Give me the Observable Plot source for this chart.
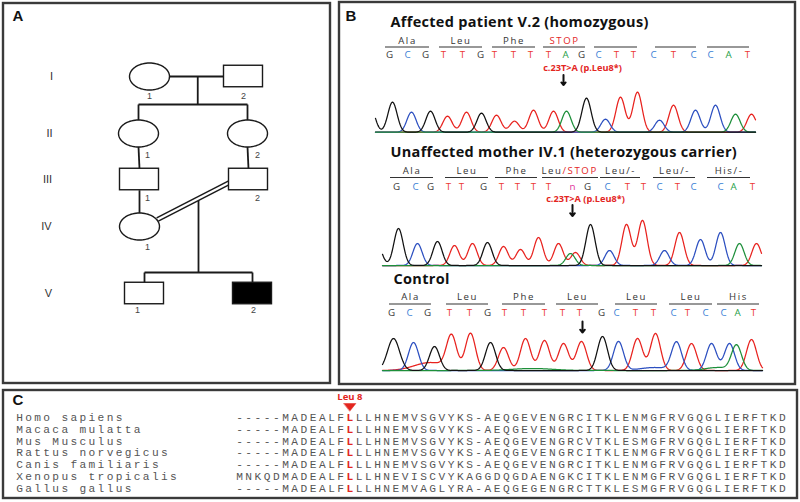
<!DOCTYPE html>
<html><head><meta charset="utf-8">
<script src="https://cdn.jsdelivr.net/npm/d3@7"></script>
<script src="https://cdn.jsdelivr.net/npm/@observablehq/plot@0.6"></script>
<style>body{margin:0;background:#fff}#chart{width:800px;height:502px}</style>
</head><body><div id="chart"></div>
<script>
// ================= DATA =================
// Panel A – pedigree
const generationLabels = ["I", "II", "III", "IV", "V"];
const pedGeneration = ["I", "I", "II", "II", "III", "III", "IV", "V", "V"];
const pedNumber = [1, 2, 1, 2, 1, 2, 1, 1, 2];
const pedSex = ["F", "M", "F", "F", "M", "M", "F", "M", "M"];
const pedAffected = [false, false, false, false, false, false, false, false, true];

// Panel B – sequencing
const sampleTitles = ["Affected patient V.2 (homozygous)", "Unaffected mother IV.1 (heterozygous carrier)", "Control"];
const codonsAffected = ["Ala", "Leu", "Phe", "STOP", "", "", ""];
const codonsMother = ["Ala", "Leu", "Phe", "Leu/STOP", "Leu/-", "Leu/-", "His/-"];
const codonsControl = ["Ala", "Leu", "Phe", "Leu", "Leu", "Leu", "His"];
const basesAffected = "GCGTTGTTTTAGCTTCTCCAT";
const basesMother = "GCGTTGTTTTnGCTTCTCCAT";
const basesControl = "GCGTTGTTTTTGCTTCTCCAT";
const mutationLabel = "c.23T>A (p.Leu8*)";
// chromatogram peaks: [scan position, signal, base, (optional width)]
const peaksAffected = [
  [-5, 25, "G"], [17, 30, "G"], [36, 20, "C"], [55, 21, "G"], [72, 16, "T"], [91, 20, "T"],
  [106, 19, "G"], [121, 17, "T"], [139, 11, "T"], [158, 22, "T"], [178, 21, "T"], [191, 21, "A"],
  [211, 34, "G"], [230, 13, "C"], [245, 35, "T"], [262, 40, "T"], [284, 12, "C"], [298, 27, "T"],
  [320, 22, "C"], [340, 27, "C"], [360, 18, "A"], [376, 18, "T"]
];
const peaksMother = [
  [-5, 20, "G"], [16, 37, "G"], [35, 22, "C"], [55, 24, "G"], [72, 20, "T"], [90, 22, "T"],
  [105, 23, "G"], [121, 19, "T"], [138, 16, "T"], [156, 28, "T"], [176, 22, "T"], [188, 12, "A"],
  [193, 13, "T"], [208, 41, "G"], [227, 15, "C"], [244, 41, "T"], [260, 45, "T"], [282, 15, "C"],
  [297, 33, "T"], [318, 26, "C"], [338, 33, "C"], [357, 22, "A"], [374, 22, "T"]
];
const peaksControl = [
  [11, 32, "G", 6], [31, 28, "C"], [52, 24, "G"], [69, 33, "T"], [88, 37, "T"], [108, 28, "G"],
  [121, 23, "T"], [143, 32, "T"], [162, 30, "T"], [181, 27, "T"], [199, 29, "T"], [220, 34, "G"],
  [236, 29, "C"], [255, 32, "T"], [273, 37, "T"], [294, 28, "C"], [309, 27, "T"], [329, 27, "C"],
  [347, 27, "C"], [354, 25, "A"], [369, 31, "T"],
  [48, 8, "T", 16], [272, 3, "C", 14], [335, 3, "A", 12], [150, 2, "A", 20]
];

// Panel C – alignment
const species = ["Homo sapiens", "Macaca mulatta", "Mus Musculus", "Rattus norvegicus", "Canis familiaris", "Xenopus tropicalis", "Gallus gallus"];
const sequences = [
  "-----MADEALFLLLHNEMVSGVYKS-AEQGEVENGRCITKLENMGFRVGQGLIERFTKD",
  "-----MADEALFLLLHNEMVSGVYKS-AEQGEVENGRCITKLENMGFRVGQGLIERFTKD",
  "-----MADEALFLLLHNEMVSGVYKS-AEQGEVENGRCVTKLESMGFRVGQGLIERFTKD",
  "-----MADEALFLLLHNEMVSGVYKS-AEQGEVENGRCITKLENMGFRVGQGLIERFTKD",
  "-----MADEALFLLLHNEMVSGVYKS-AEQGEVENGRCITKLENMGFRVGQGLIERFTKD",
  "MNKQDMADEALFLLLHNEVISCVYKAGGDQGDAENGKCITKLENMGFRVGQGLIERFTKD",
  "-----MADEALFLLLHNEMVAGLYRA-AEQGEGENGRCTTKLESMGFRVGQGLIERFTKD"
];
const markerLabel = "Leu 8";
const markerColumn = 12;

// ================= LAYOUT / STYLE =================
const SANS = "Open Sans, Liberation Sans, sans-serif";
const ARIAL = "Liberation Sans, Arial, sans-serif";
const MONO = "Liberation Mono, DejaVu Sans Mono, monospace";
const baseColor = {G: "#3a3a3a", C: "#3b82d6", T: "#ec3a35", A: "#27a048", n: "#e0329a"};
const traceColor = {G: "#111111", C: "#2c4fc0", T: "#e8221e", A: "#1d8f3a"};
const RED = "#e3261f";

const panels = [
  {label: "A", x1: 3, y1: 3, x2: 330, y2: 383, lx: 12, ly: 20},
  {label: "B", x1: 339, y1: 2, x2: 795, y2: 384, lx: 345, ly: 20},
  {label: "C", x1: 3, y1: 390, x2: 797, y2: 498, lx: 12, ly: 404}
];

// pedigree geometry
const genY = {I: 76, II: 133, III: 179, IV: 226, V: 293};
const genLabelX = {I: 51, II: 49, III: 47, IV: 46, V: 48};
const pedX = [149, 243, 138, 247, 139, 248, 139, 144, 252];
const pedLabelOffset = [[0, 22], [0, 22], [9, 24], [10, 24], [8, 21], [9, 21], [8, 23], [-7, 19], [1, 19]];
const RX = 20, RY = 13.5, SW = 39, SH = 21.5;

const people = pedGeneration.map((g, i) => ({
  gen: g, n: pedNumber[i], sex: pedSex[i], affected: pedAffected[i],
  x: pedX[i], y: genY[g], lx: pedX[i] + pedLabelOffset[i][0], ly: genY[g] + pedLabelOffset[i][1]
}));
const P = (g, n) => people.find(p => p.gen === g && p.n === n);
const topOf = p => p.y - (p.sex === "F" ? RY : SH / 2);
const bottomOf = p => p.y + (p.sex === "F" ? RY : SH / 2);
const rightOf = p => p.x + (p.sex === "F" ? RX : SW / 2);
const leftOf = p => p.x - (p.sex === "F" ? RX : SW / 2);

// sections of panel B
const sections = [
  {title: sampleTitles[0], codons: codonsAffected, bases: basesAffected, peaks: peaksAffected,
   tx: 390, ty: 26, cy: 43, ly: 46.5, by: 57.5, my: 70.5, mx: 582, ax: 563, ay1: 74.5, ay2: 84.5,
   x0: 375, len: 380, base: 131.7, sigma: 4.6,
   segs: [[385, 429], [439, 482], [492, 535], [543, 585], [594, 637], [655, 696], [707, 749]],
   bx: [389, 407, 425, 443, 462, 480, 494, 513, 530, 548, 565, 581, 598, 616, 633, 653, 673, 693, 710, 728, 747]},
  {title: sampleTitles[1], codons: codonsMother, bases: basesMother, peaks: peaksMother,
   tx: 390, ty: 156, cy: 173.5, ly: 177, by: 189, my: 201.5, mx: 585, ax: 572, ay1: 204.5, ay2: 215.5,
   x0: 382, len: 379, base: 265, sigma: 4.6,
   segs: [[390, 433], [445, 488], [495, 537], [542, 598], [600, 640], [653, 695], [707, 750]],
   bx: [396, 415, 430, 448, 461, 483, 501, 517, 533, 548, 572, 587, 607, 627, 643, 659, 677, 693, 720, 733, 752]},
  {title: sampleTitles[2], codons: codonsControl, bases: basesControl, peaks: peaksControl,
   tx: 393, ty: 283, cy: 299.5, ly: 303.5, by: 315.5, my: null, mx: null, ax: 582, ay1: 321, ay2: 332,
   x0: 382, len: 380, base: 370, sigma: 5,
   segs: [[389, 431], [446, 488], [502, 545], [556, 598], [615, 657], [669, 712], [717, 759]],
   bx: [391, 409, 427, 449, 469, 487, 504, 523, 544, 562, 579, 601, 616, 635, 653, 673, 687, 705, 723, 737, 753]}
];

// alignment geometry
const nameX0 = 19, namePitch = 9.05, seqX0 = 239, seqPitch = 9.2, rowY0 = 417, rowStep = 11.8;

// ================= MARKS =================
const marks = [];

// panel frames and letters
marks.push(Plot.rect(panels, {x1: "x1", x2: "x2", y1: "y1", y2: "y2", fill: "none", stroke: "#3a3a3a", strokeWidth: 2.4}));
marks.push(Plot.text(panels, {x: "lx", y: "ly", text: "label", fontFamily: ARIAL, fontWeight: "bold", fontSize: 15, textAnchor: "start", lineAnchor: "bottom", fill: "#111"}));

// ---- Panel A pedigree ----
marks.push(Plot.text(generationLabels, {x: g => genLabelX[g], y: g => genY[g], text: d => d, fontFamily: ARIAL, fontSize: 11, fill: "#333"}));

const segs = [];
const I1 = P("I", 1), I2 = P("I", 2), II1 = P("II", 1), II2 = P("II", 2), III1 = P("III", 1), III2 = P("III", 2), IV1 = P("IV", 1), V1 = P("V", 1), V2 = P("V", 2);
const sib2Y = 104, sib5Y = 272;
const midI = (rightOf(I1) + leftOf(I2)) / 2 + 1;
segs.push({x1: rightOf(I1), y1: I1.y, x2: leftOf(I2), y2: I2.y});
segs.push({x1: midI, y1: I1.y, x2: midI, y2: sib2Y});
segs.push({x1: II1.x, y1: sib2Y, x2: II2.x, y2: sib2Y});
segs.push({x1: II1.x, y1: sib2Y, x2: II1.x, y2: topOf(II1)});
segs.push({x1: II2.x, y1: sib2Y, x2: II2.x, y2: topOf(II2)});
segs.push({x1: II1.x, y1: bottomOf(II1), x2: III1.x, y2: topOf(III1)});
segs.push({x1: II2.x, y1: bottomOf(II2), x2: III2.x, y2: topOf(III2)});
segs.push({x1: III1.x, y1: bottomOf(III1), x2: IV1.x, y2: topOf(IV1)});
// consanguineous union III.2 = IV.1
const cons = {x1: leftOf(III2) + 0.5, y1: III2.y + 3, x2: rightOf(IV1) - 2, y2: IV1.y - 7};
const descX = (V1.x + V2.x) / 2;
const descY = cons.y1 + (cons.x1 - descX) / (cons.x1 - cons.x2) * (cons.y2 - cons.y1);
segs.push({x1: descX, y1: descY, x2: descX, y2: sib5Y});
segs.push({x1: V1.x, y1: sib5Y, x2: V2.x, y2: sib5Y});
segs.push({x1: V1.x, y1: sib5Y, x2: V1.x, y2: topOf(V1)});
segs.push({x1: V2.x, y1: sib5Y, x2: V2.x, y2: topOf(V2)});
marks.push(Plot.link(segs, {x1: "x1", y1: "y1", x2: "x2", y2: "y2", stroke: "#1a1a1a", strokeWidth: 1.8}));
marks.push(Plot.link([cons], {x1: "x1", y1: "y1", x2: "x2", y2: "y2", stroke: "#1a1a1a", strokeWidth: 5.2}));
marks.push(Plot.link([cons], {x1: "x1", y1: "y1", x2: "x2", y2: "y2", stroke: "#fff", strokeWidth: 2.2}));

// females: ellipses
const females = people.filter(p => p.sex === "F");
const ellPts = [];
females.forEach((p, k) => { for (let a = 0; a < 72; a++) { const t = a / 72 * 2 * Math.PI; ellPts.push({id: k, x: p.x + RX * Math.cos(t), y: p.y + RY * Math.sin(t)}); } });
marks.push(Plot.line(ellPts, {x: "x", y: "y", z: "id", curve: "linear-closed", fill: "#fff", stroke: "#1a1a1a", strokeWidth: 1.4}));
// males: squares
const males = people.filter(p => p.sex === "M");
marks.push(Plot.rect(males, {x1: p => p.x - SW / 2, x2: p => p.x + SW / 2, y1: p => p.y - SH / 2, y2: p => p.y + SH / 2, fill: p => p.affected ? "#000" : "#fff", stroke: "#1a1a1a", strokeWidth: 1.4}));
marks.push(Plot.text(people, {x: "lx", y: "ly", text: "n", fontFamily: ARIAL, fontSize: 9, fill: "#444", lineAnchor: "bottom"}));

// ---- Panel B sequencing ----
sections.forEach((s, si) => {
  marks.push(Plot.text([s.title], {x: s.tx, y: s.ty, text: d => d, fontFamily: SANS, fontWeight: "bold", fontSize: 14.5, textAnchor: "start", lineAnchor: "bottom", fill: "#111"}));
  const segData = s.segs.map((g, i) => ({x1: g[0], x2: g[1], label: s.codons[i]}));
  marks.push(Plot.ruleY(segData, {x1: "x1", x2: "x2", y: s.ly, stroke: "#333", strokeWidth: 1.1}));
  const plain = segData.filter(d => d.label && !d.label.includes("STOP"));
  marks.push(Plot.text(plain, {x: d => (d.x1 + d.x2) / 2, y: s.cy, text: "label", fontFamily: SANS, fontSize: 9.6, fill: "#333", lineAnchor: "bottom"}));
  segData.filter(d => d.label === "STOP").forEach(d => {
    marks.push(Plot.text([d], {x: d => (d.x1 + d.x2) / 2, y: s.cy, text: "label", fontFamily: SANS, fontSize: 9.6, fill: RED, lineAnchor: "bottom"}));
  });
  segData.filter(d => d.label.includes("/STOP")).forEach(d => {
    const [a, b] = d.label.split("/");
    const cx = (d.x1 + d.x2) / 2 - 8;
    marks.push(Plot.text([a], {x: cx, y: s.cy, text: t => t, fontFamily: SANS, fontSize: 9.6, fill: "#333", lineAnchor: "bottom", textAnchor: "end"}));
    marks.push(Plot.text(["/" + b], {x: cx, y: s.cy, text: t => t, fontFamily: SANS, fontSize: 9.6, fill: RED, lineAnchor: "bottom", textAnchor: "start"}));
  });
  const baseData = s.bases.split("").map((b, i) => ({b, x: s.bx[i]}));
  marks.push(Plot.text(baseData, {x: "x", y: s.by, text: "b", fontFamily: SANS, fontSize: 9.8, fill: d => baseColor[d.b], lineAnchor: "bottom"}));
  if (s.my !== null) {
    marks.push(Plot.text([mutationLabel], {x: s.mx, y: s.my, text: d => d, fontFamily: SANS, fontWeight: "bold", fontSize: 9.2, fill: RED, lineAnchor: "bottom"}));
  }
  marks.push(Plot.arrow([{x: s.ax}], {x1: "x", x2: "x", y1: s.ay1, y2: s.ay2, stroke: "#111", strokeWidth: 2, headLength: 4, headAngle: 80}));
  // chromatogram traces
  for (const b of ["T", "C", "A", "G"]) {
    const ps = s.peaks.filter(p => p[2] === b);
    const pts = [];
    for (let t = 0; t <= s.len; t += 0.5) {
      let v = 0;
      for (const p of ps) { const sg = p[3] || s.sigma; v += p[1] * Math.exp(-((t - p[0]) ** 2) / (2 * sg * sg)); }
      pts.push({x: s.x0 + t, y: s.base - v});
    }
    marks.push(Plot.line(pts, {x: "x", y: "y", stroke: traceColor[b], strokeWidth: 1.25}));
  }
});

// ---- Panel C alignment ----
const FS = 11.2;
const nameChars = [];
species.forEach((sp, r) => sp.split("").forEach((c, j) => { if (c !== " ") nameChars.push({c, x: nameX0 + j * namePitch, y: rowY0 + r * rowStep}); }));
marks.push(Plot.text(nameChars, {x: "x", y: "y", text: "c", fontFamily: MONO, fontSize: FS, fill: "#555"}));
const seqChars = [];
sequences.forEach((sq, r) => sq.split("").forEach((c, j) => seqChars.push({c, hit: j === markerColumn, x: seqX0 + j * seqPitch, y: rowY0 + r * rowStep})));
marks.push(Plot.text(seqChars.filter(d => !d.hit), {x: "x", y: "y", text: "c", fontFamily: MONO, fontSize: FS, fill: "#555"}));
marks.push(Plot.text(seqChars.filter(d => d.hit), {x: "x", y: "y", text: "c", fontFamily: MONO, fontSize: FS, fontWeight: "bold", fill: RED}));
const mx = seqX0 + markerColumn * seqPitch;
marks.push(Plot.text([markerLabel], {x: mx, y: 399, text: d => d, fontFamily: SANS, fontWeight: "bold", fontSize: 9.5, fill: RED, lineAnchor: "bottom"}));
const tri = [{x: mx - 6, y: 403}, {x: mx + 6, y: 403}, {x: mx, y: 410.5}];
marks.push(Plot.line(tri, {x: "x", y: "y", curve: "linear-closed", fill: RED, stroke: RED, strokeWidth: 0.5}));

const chart = Plot.plot({
  width: 800, height: 502, margin: 0,
  x: {domain: [0, 800], range: [0, 800], axis: null},
  y: {domain: [0, 502], range: [0, 502], axis: null},
  style: {background: "#fff", overflow: "visible"},
  marks
});
// widen letter spacing of codon labels and titles
d3.select(chart).selectAll('g[font-size="9.6"]').style("letter-spacing", "1.6px");
d3.select(chart).selectAll('g[font-size="14.5"]').style("letter-spacing", "0.3px");
document.getElementById("chart").appendChild(chart);
</script></body></html>
